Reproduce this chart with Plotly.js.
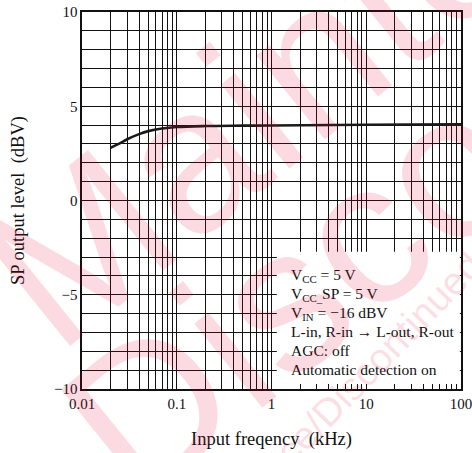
<!DOCTYPE html>
<html>
<head>
<meta charset="utf-8">
<script src="https://cdn.plot.ly/plotly-3.0.1.min.js"></script>
<style>
html,body{margin:0;padding:0;background:#fff;}
#chart{width:472px;height:453px;}
</style>
</head>
<body>
<div id="chart"></div>
<script>
// Data
const freqKHz = [0.02, 0.025, 0.03, 0.04, 0.05, 0.07, 0.1, 0.2, 0.5, 1, 10, 100];
const levelDBV = [2.8, 3.03, 3.25, 3.52, 3.68, 3.82, 3.9, 3.95, 3.97, 3.98, 4.02, 4.04];

const xTickVals = [0.01, 0.1, 1, 10, 100];
const xTickText = ['0.01', '0.1', '1', '10', '100'];
const yTickVals = [-10, -5, 0, 5, 10];
const yTickText = ['\u221210', '\u22125', '0', '5', '10'];

const conditions = [
  'V<sub>CC</sub> = 5 V',
  'V<sub>CC_</sub>SP = 5 V',
  'V<sub>IN</sub> = \u221216 dBV',
  'L-in, R-in \u2192 L-out, R-out',
  'AGC: off',
  'Automatic detection on'
];

const serif = 'Liberation Serif, Times New Roman, Times, serif';
const sans = 'Liberation Sans, Arial, Helvetica, sans-serif';

// minor log grid: 2..9 within each decade
const xMinorVals = [];
xTickVals.slice(0, -1).forEach(base => {
  for (let m = 2; m <= 9; m++) xMinorVals.push(base * m);
});
// minor y grid every 1 dB
const yMinorVals = [];
for (let v = -10; v <= 10; v++) if (yTickVals.indexOf(v) < 0) yMinorVals.push(v);

const trace = {
  x: freqKHz, y: levelDBV, type: 'scatter', mode: 'lines',
  line: {color: '#1a1a1a', width: 2.6, shape: 'spline', smoothing: 1},
  hoverinfo: 'skip'
};

const annotations = [];
conditions.forEach((t, i) => {
  annotations.push({
    xref: 'paper', yref: 'paper', x: 0.545, y: 0.3 - i * 0.0496,
    xanchor: 'left', yanchor: 'middle', showarrow: false, align: 'left',
    text: t, font: {family: serif, size: 15.5, color: '#111'}
  });
});

// watermark
const wmColor = 'rgba(230,0,45,0.14)';
annotations.push({
  xref: 'paper', yref: 'paper', x: 1.2403, y: 0.8144, xanchor: 'center', yanchor: 'middle',
  showarrow: false, text: 'Discontinued', textangle: -39,
  font: {family: sans, size: 205, color: wmColor}
});
annotations.push({
  xref: 'paper', yref: 'paper', x: 1.0185, y: 1.2147, xanchor: 'center', yanchor: 'middle',
  showarrow: false, text: 'Maintenance', textangle: -39,
  font: {family: sans, size: 205, color: wmColor}
});
annotations.push({
  xref: 'paper', yref: 'paper', x: (316 - 82.3) / 378.7, y: (389.3 - 424) / 377.3,
  xanchor: 'center', yanchor: 'middle',
  showarrow: false, text: 'Maintenance/Discontinued', textangle: -46,
  font: {family: sans, size: 39, color: 'rgba(230,0,45,0.15)'}
});

const gridCol = '#111';
const layout = {
  width: 472, height: 453,
  margin: {l: 82, r: 11, t: 12, b: 64},
  paper_bgcolor: '#fff', plot_bgcolor: '#fff',
  showlegend: false,
  font: {family: serif, size: 15, color: '#111'},
  xaxis: {
    type: 'log', range: [-2, 2],
    tickmode: 'array', tickvals: xTickVals, ticktext: xTickText,
    ticklabeloverflow: 'allow',
    showgrid: true, gridcolor: gridCol, gridwidth: 1,
    minor: {tickmode: 'array', tickvals: xMinorVals, showgrid: true, gridcolor: gridCol, gridwidth: 1, ticks: ''},
    ticks: '', showline: true, linecolor: '#111', linewidth: 1.6, mirror: true,
    zeroline: false,
    tickfont: {family: serif, size: 15, color: '#111'},
    title: {text: 'Input freqency\u00a0 (kHz)', font: {family: serif, size: 18.5, color: '#111'}, standoff: 21}
  },
  yaxis: {
    range: [-10, 10],
    tickmode: 'array', tickvals: yTickVals, ticktext: yTickText,
    ticklabeloverflow: 'allow',
    showgrid: true, gridcolor: gridCol, gridwidth: 1,
    minor: {tickmode: 'array', tickvals: yMinorVals, showgrid: true, gridcolor: gridCol, gridwidth: 1, ticks: ''},
    ticks: '', showline: true, linecolor: '#111', linewidth: 1.6, mirror: true,
    zeroline: false,
    tickfont: {family: serif, size: 15, color: '#111'},
    title: {text: 'SP output level\u00a0 (dBV)', font: {family: serif, size: 18.5, color: '#111'}, standoff: 24}
  },
  shapes: [{
    type: 'rect', xref: 'paper', yref: 'paper',
    x0: 0.514, x1: 0.997, y0: 0.013, y1: 0.364,
    fillcolor: '#fff', line: {width: 0}, layer: 'above'
  }],
  annotations: annotations
};

Plotly.newPlot('chart', [trace], layout, {staticPlot: true, displayModeBar: false});
</script>
</body>
</html>
